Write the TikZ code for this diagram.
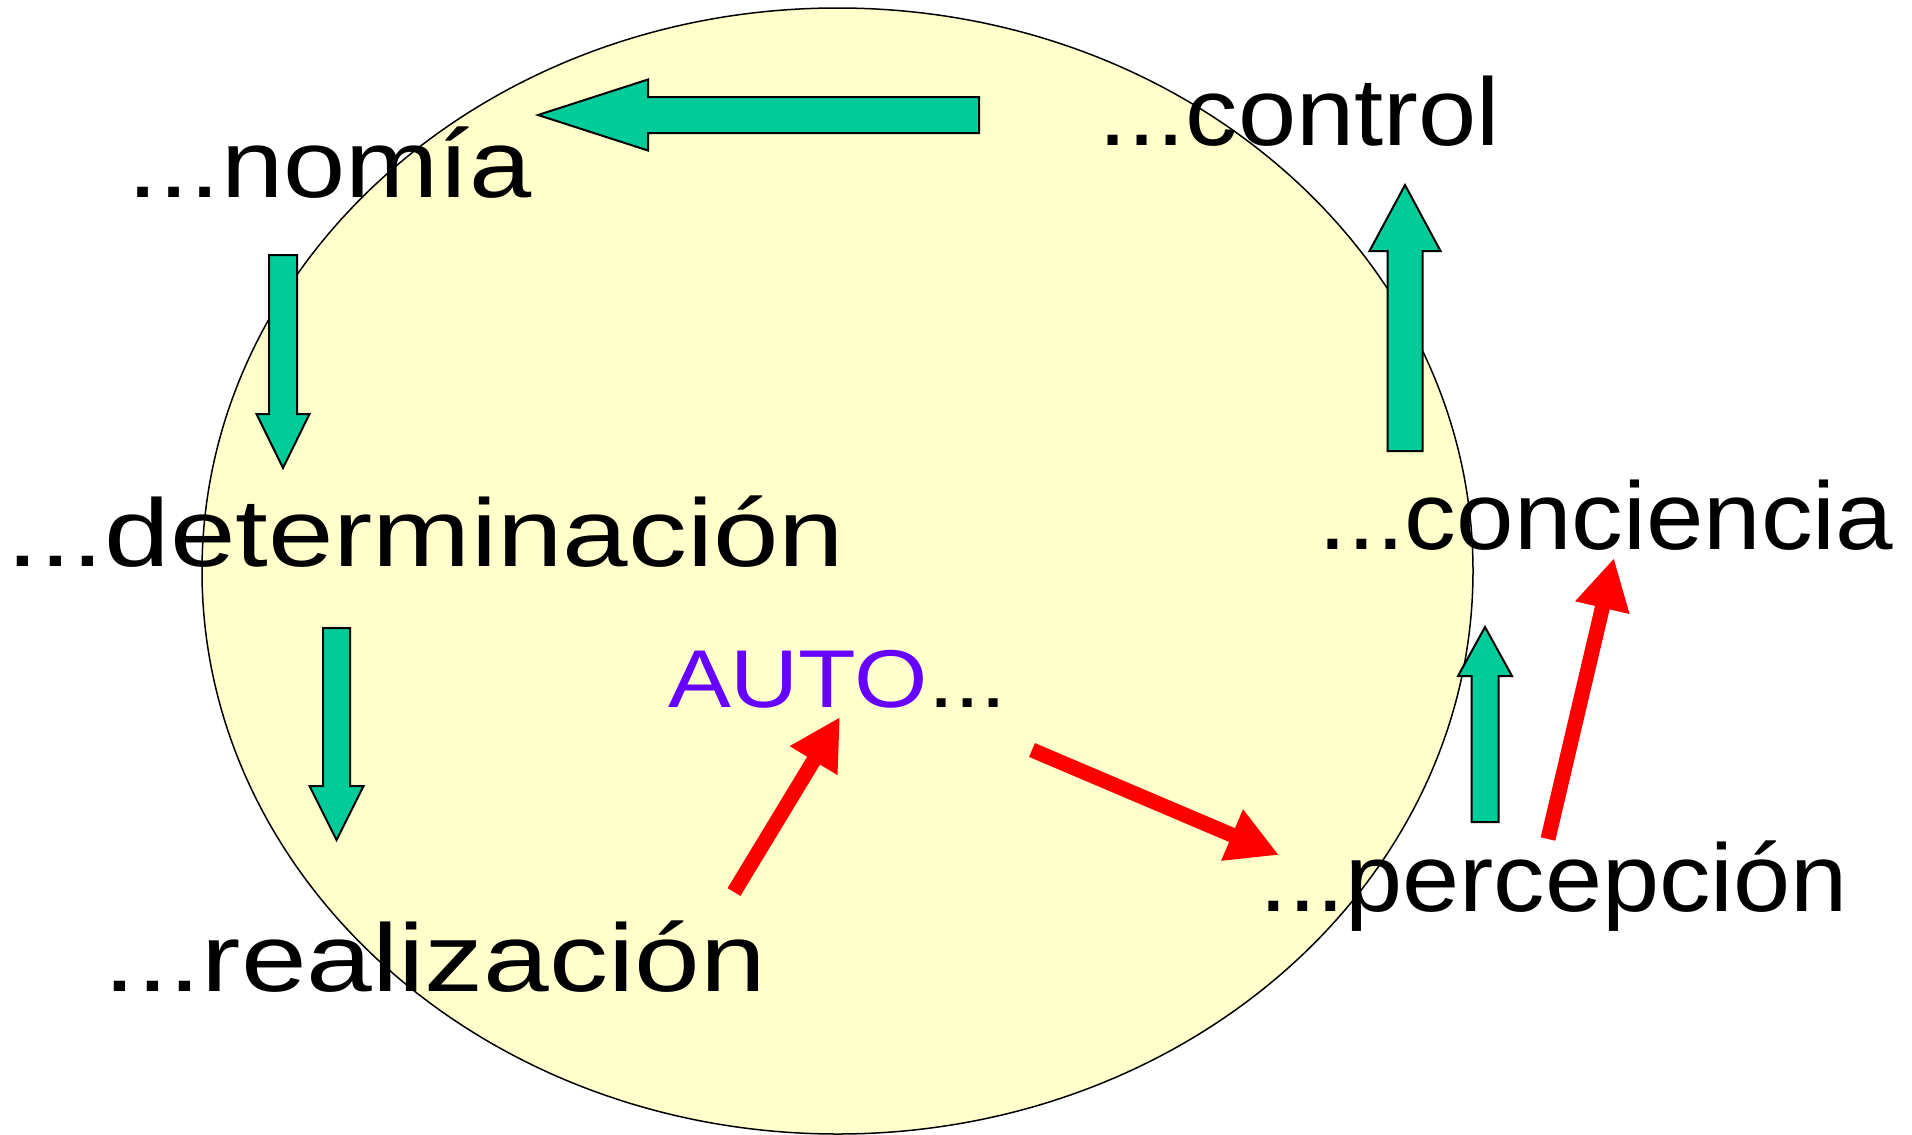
\documentclass[tikz,border=0pt]{standalone}
\usepackage{fontspec}
\usepackage{graphicx}
\setmainfont{Liberation Sans}
\usetikzlibrary{calc,arrows.meta}
\definecolor{ellfill}{HTML}{FFFFCC}
\definecolor{garr}{HTML}{00CC99}
\definecolor{autoc}{HTML}{6600FF}
\tikzset{
  lbl/.style={anchor=base west, inner sep=0pt, outer sep=0pt, font=\fontsize{48}{58}\selectfont},
  garrow/.style={fill=garr, draw=black, line width=1pt, line join=miter},
  rarrow/.style={draw=red, line width=7.5pt, -{Triangle[length=25.5pt,width=26pt]}},
}
\newcommand\blockarrow[5]{%
  \coordinate (ba-b) at ($(#2)!#5!(#1)$);
  \draw[garrow] ($(#1)!#3!90:(#2)$) -- ($(ba-b)!#3!-90:(#1)$) -- ($(ba-b)!#4!-90:(#1)$) -- (#2)
     -- ($(ba-b)!#4!90:(#1)$) -- ($(ba-b)!#3!90:(#1)$) -- ($(#1)!#3!-90:(#2)$) -- cycle;
}
\begin{document}
\begin{tikzpicture}[x=0.5pt,y=-0.5pt]
\useasboundingbox (0,0) rectangle (1912,1135);
% background ellipse
\draw[fill=ellfill, draw=black, line width=0.75pt] (837.5,571) ellipse [x radius=635.5, y radius=563];
% labels
\node[lbl] (nomia) at (127.8,197) {\scalebox{1.165}[1]{...nomía}};
\node[lbl] (control) at (1098.5,145) {\scalebox{1.09}[1]{...control}};
\node[lbl] (determ) at (6.3,566) {\scalebox{1.227}[1]{...determinación}};
\node[lbl] (concien) at (1318.6,549) {\scalebox{1.077}[1]{...conciencia}};
\node[lbl] (percep) at (1259.7,911) {\scalebox{1.07}[1]{...percepción}};
\node[lbl] (realiz) at (103.3,991) {\scalebox{1.23}[1]{...realización}};
\node[lbl, font=\fontsize{41}{50}\selectfont] (auto) at (668,707) {\scalebox{1.15}[1]{\textcolor{autoc}{AUTO}...}};
% arrow end points
\coordinate (g1t) at (979,115);   \coordinate (g1p) at (538,115);
\coordinate (g2t) at (283,255);   \coordinate (g2p) at (283,468);
\coordinate (g3t) at (336.5,628); \coordinate (g3p) at (336.5,840);
\coordinate (g4t) at (1405,451);  \coordinate (g4p) at (1405,185);
\coordinate (g5t) at (1485,822);  \coordinate (g5p) at (1485,627);
\coordinate (r1t) at (1548,839);  \coordinate (r1p) at (1614,558);
\coordinate (r2t) at (734,892);   \coordinate (r2p) at (840,717);
\coordinate (r3t) at (1032,750);  \coordinate (r3p) at (1279,855);
% green block arrows
\blockarrow{g1t}{g1p}{9pt}{17.75pt}{55pt}
\blockarrow{g2t}{g2p}{7pt}{13.25pt}{27pt}
\blockarrow{g3t}{g3p}{6.75pt}{13.5pt}{27pt}
\blockarrow{g4t}{g4p}{8.75pt}{17.75pt}{33pt}
\blockarrow{g5t}{g5p}{6.75pt}{13.5pt}{24.5pt}
% red arrows
\draw[rarrow] (r1t) -- (r1p);
\draw[rarrow] (r2t) -- (r2p);
\draw[rarrow] (r3t) -- (r3p);
\end{tikzpicture}
\end{document}
